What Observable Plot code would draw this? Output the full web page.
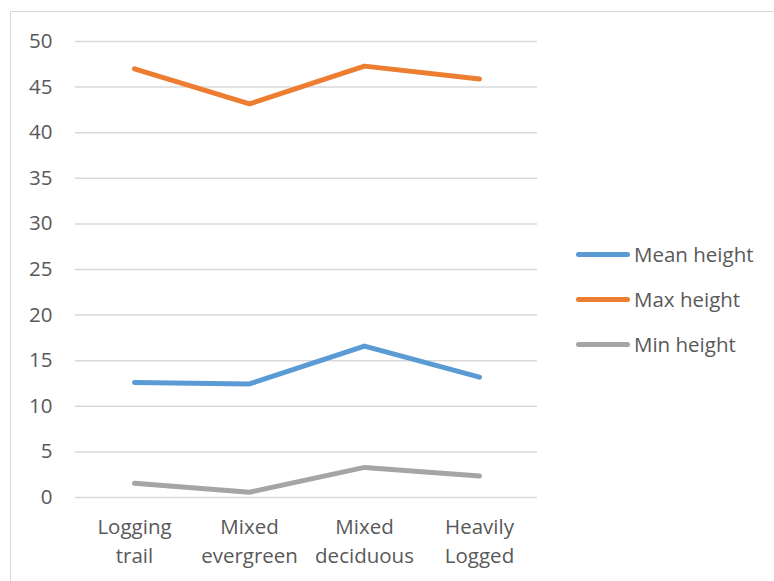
<!DOCTYPE html>
<html>
<head>
<meta charset="utf-8">
<script src="https://cdn.jsdelivr.net/npm/d3@7"></script>
<script src="https://cdn.jsdelivr.net/npm/@observablehq/plot@0.6"></script>
<style>
  html, body { margin: 0; padding: 0; background: #fff; overflow: hidden; }
  #wrap { position: relative; width: 774px; height: 581px; font-family: "Open Sans", sans-serif; }
  #frame { position: absolute; left: 10px; top: 11px; width: 900px; height: 700px; border: 1.5px solid #d9d9d9; box-sizing: border-box; }
  #chart { position: absolute; left: 0; top: 0; }
  #legend { position: absolute; left: 576px; top: 240px; color: #595959; font-size: 20.5px; }
  .item { position: absolute; left: 0; display: flex; align-items: center; white-space: nowrap; line-height: 28px; }
  .swatch { width: 54px; height: 5px; border-radius: 3px; margin-right: 4px; }
</style>
</head>
<body>
<div id="wrap">
  <div id="frame"></div>
  <div id="chart"></div>
  <div id="legend"></div>
</div>
<script>
// Stand types along the x axis
const categories = ["Logging trail", "Mixed evergreen", "Mixed deciduous", "Heavily Logged"];
// Tree heights per stand type
const meanHeight = [12.6, 12.45, 16.6, 13.2];
const maxHeight = [47.0, 43.15, 47.3, 45.9];
const minHeight = [1.55, 0.58, 3.3, 2.35];

const seriesNames = ["Mean height", "Max height", "Min height"];
const seriesColors = ["#5b9bd5", "#ed7d31", "#a5a5a5"];
const seriesValues = [meanHeight, maxHeight, minHeight];
const yTicks = [0, 5, 10, 15, 20, 25, 30, 35, 40, 45, 50];

const rows = seriesNames.flatMap((name, s) =>
  categories.map((cat, i) => ({series: name, category: cat, value: seriesValues[s][i]}))
);

const chart = Plot.plot({
  width: 774,
  height: 581,
  marginLeft: 75,
  marginRight: 237,
  marginTop: 41,
  marginBottom: 84,
  style: {fontFamily: "Open Sans, sans-serif", fontSize: "20.5px", color: "#595959", background: "transparent"},
  x: {type: "point", domain: categories, padding: 0.5},
  y: {domain: [0, 50]},
  color: {domain: seriesNames, range: seriesColors},
  marks: [
    Plot.gridY(yTicks, {stroke: "#d9d9d9", strokeOpacity: 1, strokeWidth: 1.5}),
    Plot.axisY(yTicks, {tickSize: 0, tickPadding: 23, label: null, fill: "#595959", fontSize: 20.5}),
    Plot.axisX({tickSize: 0, tickPadding: 17, label: null, fill: "#595959", fontSize: 20.5,
      lineHeight: 1.37, tickFormat: d => d.replace(" ", "\n")}),
    Plot.line(rows, {x: "category", y: "value", z: "series", stroke: "series",
      strokeWidth: 5, strokeLinecap: "round", strokeLinejoin: "round"})
  ]
});
document.getElementById("chart").appendChild(chart);

// Legend to the right of the plot
const legend = document.getElementById("legend");
seriesNames.forEach((name, i) => {
  const item = document.createElement("div");
  item.className = "item";
  item.style.top = (i * 45) + "px";
  const sw = document.createElement("div");
  sw.className = "swatch";
  sw.style.background = seriesColors[i];
  const label = document.createElement("span");
  label.textContent = name;
  item.appendChild(sw);
  item.appendChild(label);
  legend.appendChild(item);
});
</script>
</body>
</html>
